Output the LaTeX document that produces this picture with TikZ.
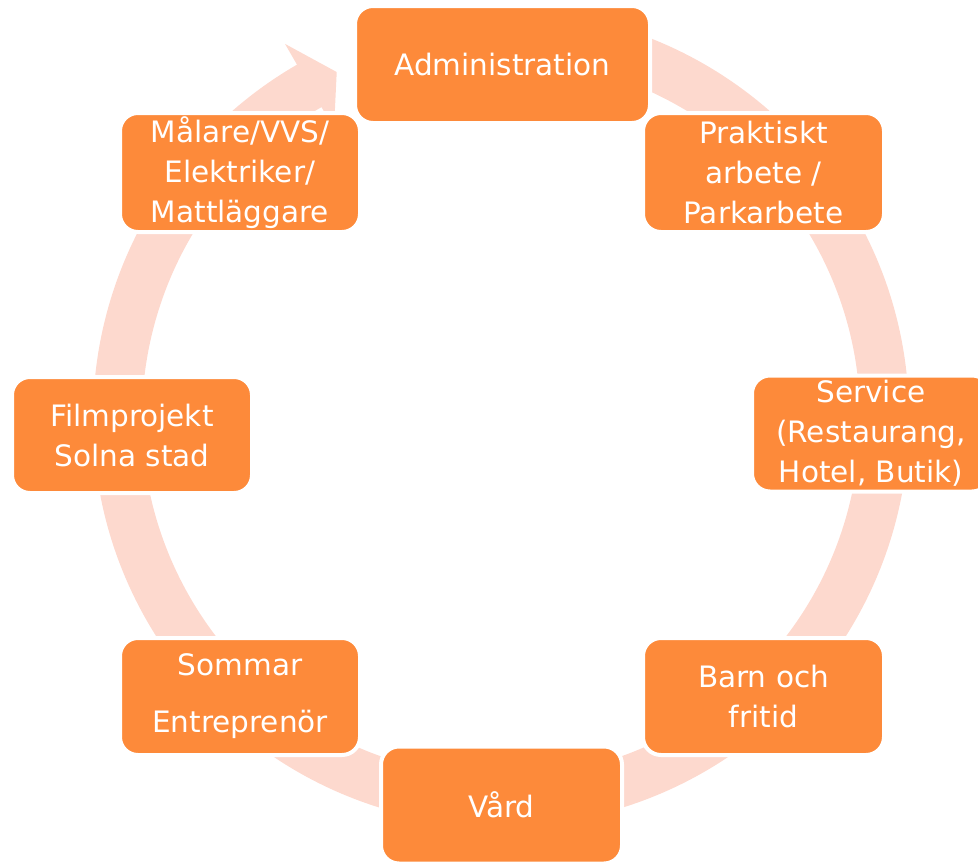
\documentclass[tikz,border=0pt]{standalone}
\usepackage{fontspec}
\setmainfont{DejaVu Sans}
\usetikzlibrary{calc}
\definecolor{ringc}{HTML}{FDD9CE}
\definecolor{boxc}{HTML}{FD8A3A}
\begin{document}
\begin{tikzpicture}[x=1pt,y=-1pt,
  stagebox/.style={rectangle, rounded corners=18pt, fill=boxc, draw=white, line width=4pt,
    text=white, align=center, font=\fontsize{29.5}{40}\selectfont, inner sep=0pt}]
\useasboundingbox (0,0) rectangle (978,862);
\coordinate (C) at (501,418);
% circular arrow ring
\fill[ringc] ($(C)+(-90:408)$) arc[start angle=-90, end angle=240, radius=408]
  -- ($(C)+(240:432)$) -- ($(C)+(244.6:383)$) -- ($(C)+(240:334)$) -- ($(C)+(240:359)$)
  arc[start angle=240, end angle=-90, radius=359] -- cycle;
% stages
\node[stagebox, minimum width=295pt, minimum height=117pt] (adm) at (502.5,64.5) {Administration};
\node[stagebox, minimum width=241pt, minimum height=119pt] (prak) at (763.5,172.5) {Praktiskt\\arbete /\\Parkarbete};
\node[stagebox, minimum width=238pt, minimum height=116pt] (serv) at (871,433.5) {Service\\(Restaurang,\\Hotel, Butik)};
\node[stagebox, minimum width=241pt, minimum height=117pt] (barn) at (763.5,696.5) {Barn och\\fritid};
\node[stagebox, minimum width=241pt, minimum height=117pt] (vard) at (501.5,805) {Vård};
\node[stagebox, minimum width=240pt, minimum height=117pt] (somm) at (240,696.5) {Sommar\\[17pt]Entreprenör};
\node[stagebox, minimum width=240pt, minimum height=116pt] (film) at (132,435) {Filmprojekt\\Solna stad};
\node[stagebox, minimum width=240pt, minimum height=119pt] (mal) at (240,172.5) {Målare/VVS/\\Elektriker/\\Mattläggare};
\end{tikzpicture}
\end{document}
